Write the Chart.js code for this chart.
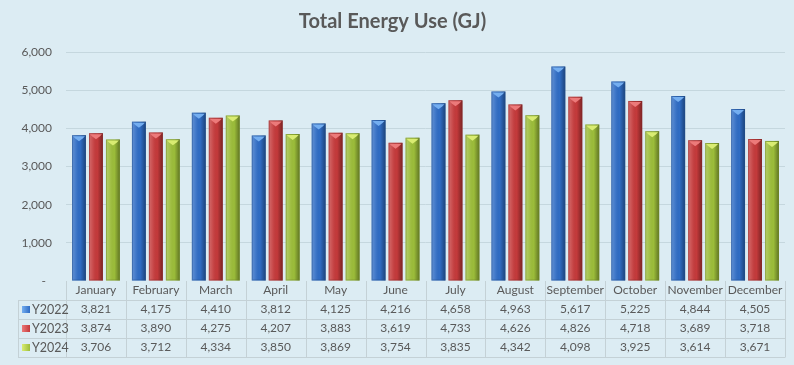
<!DOCTYPE html>
<html lang="en">
<head>
<meta charset="UTF-8">
<title>Total Energy Use (GJ)</title>
<style>
    html, body { margin: 0; padding: 0; background: #dcecf3; }
    .wrap { width: 794px; height: 365px; }
</style>
</head>
<body>
<div class="wrap"><canvas id="energy" width="794" height="365"></canvas></div>
<script src="https://cdn.jsdelivr.net/npm/chart.js"></script>
<script>
const months = ['January', 'February', 'March', 'April', 'May', 'June', 'July', 'August', 'September', 'October', 'November', 'December'];
const seriesNames = ['Y2022', 'Y2023', 'Y2024'];
const y2022 = [3821, 4175, 4410, 3812, 4125, 4216, 4658, 4963, 5617, 5225, 4844, 4505];
const y2023 = [3874, 3890, 4275, 4207, 3883, 3619, 4733, 4626, 4826, 4718, 3689, 3718];
const y2024 = [3706, 3712, 4334, 3850, 3869, 3754, 3835, 4342, 4098, 3925, 3614, 3671];
const seriesColors = ['#2f6cc4', '#c43a3b', '#9cbd3a'];
const capColors = ['#74aef0', '#ec7a7a', '#d9ec72'];
const edgeColors = ['#24528f', '#8e2a2a', '#6f8a28'];

const FONT = 'Lato, "Open Sans", sans-serif';
const TEXT = '#595959';
const ROW_H = 19;

const fmt = v => v.toLocaleString('en-US');
const tableLabels = months.map((m, i) => [m, fmt(y2022[i]), fmt(y2023[i]), fmt(y2024[i])]);

// draws the data table grid, its legend keys and the bar shading
const tablePlugin = {
    id: 'dataTable',
    afterDatasetsDraw(chart) {
        const ctx = chart.ctx;
        chart.data.datasets.forEach((ds, d) => {
            chart.getDatasetMeta(d).data.forEach(bar => {
                const l = bar.x - bar.width / 2, r = bar.x + bar.width / 2;
                const g = ctx.createLinearGradient(l, 0, r, 0);
                g.addColorStop(0, 'rgba(255,255,255,0.25)');
                g.addColorStop(0.3, 'rgba(255,255,255,0.08)');
                g.addColorStop(0.6, 'rgba(0,0,0,0)');
                g.addColorStop(1, 'rgba(0,0,0,0.38)');
                ctx.save();
                ctx.fillStyle = g;
                ctx.fillRect(l, bar.y, bar.width, bar.base - bar.y);
                ctx.strokeStyle = edgeColors[d];
                ctx.globalAlpha = 0.5;
                ctx.lineWidth = 1;
                ctx.strokeRect(l + 0.5, bar.y + 0.5, bar.width - 1, bar.base - bar.y - 1);
                ctx.globalAlpha = 1;
                // bevelled top
                ctx.fillStyle = capColors[d];
                ctx.beginPath();
                ctx.moveTo(l + 1, bar.y + 1);
                ctx.lineTo(r - 1, bar.y + 1);
                ctx.lineTo(r - 3, bar.y + 3);
                ctx.lineTo(bar.x, bar.y + 6);
                ctx.lineTo(l + 3, bar.y + 3);
                ctx.closePath();
                ctx.fill();
                ctx.restore();
            });
        });
    },
    afterDraw(chart) {
        const { ctx, chartArea, scales } = chart;
        const x = scales.x;
        const top = chartArea.bottom;
        const bottom = top + 4 * ROW_H;
        const left = 18;
        ctx.save();
        ctx.strokeStyle = '#c4d1d6';
        ctx.lineWidth = 1;
        ctx.beginPath();
        for (let i = 0; i <= months.length; i++) {
            const px = Math.round(x.getPixelForValue(i - 0.5)) + 0.5;
            ctx.moveTo(px, top);
            ctx.lineTo(px, bottom);
        }
        for (let r = 1; r <= 4; r++) {
            const py = top + r * ROW_H + 0.5;
            ctx.moveTo(left, py);
            ctx.lineTo(Math.round(chartArea.right) + 0.5, py);
        }
        ctx.moveTo(left + 0.5, top + ROW_H);
        ctx.lineTo(left + 0.5, bottom);
        ctx.stroke();

        ctx.font = '12.5px ' + FONT;
        ctx.textBaseline = 'middle';
        ctx.textAlign = 'left';
        seriesNames.forEach((name, i) => {
            const cy = top + (i + 1.5) * ROW_H;
            const g = ctx.createLinearGradient(22, 0, 30, 0);
            g.addColorStop(0, capColors[i]);
            g.addColorStop(1, seriesColors[i]);
            ctx.fillStyle = g;
            ctx.fillRect(22, cy - 3.5, 8, 7);
            ctx.fillStyle = TEXT;
            ctx.fillText(name, 32, cy);
        });
        ctx.restore();
    }
};

new Chart(document.getElementById('energy'), {
    type: 'bar',
    data: {
        labels: tableLabels,
        datasets: [
            { label: seriesNames[0], data: y2022, backgroundColor: seriesColors[0] },
            { label: seriesNames[1], data: y2023, backgroundColor: seriesColors[1] },
            { label: seriesNames[2], data: y2024, backgroundColor: seriesColors[2] }
        ]
    },
    options: {
        responsive: false,
        animation: false,
        layout: { padding: { left: 0, right: 9, bottom: 8, top: 0 } },
        datasets: { bar: { barPercentage: 0.82, categoryPercentage: 0.85 } },
        plugins: {
            legend: { display: false },
            tooltip: { enabled: false },
            title: {
                display: true,
                text: 'Total Energy Use (GJ)',
                color: TEXT,
                font: { family: FONT, size: 20, weight: 'bold' },
                padding: { top: 10, bottom: 18 }
            }
        },
        scales: {
            x: {
                grid: { display: false, drawTicks: false },
                border: { display: false },
                ticks: {
                    color: TEXT,
                    padding: 0,
                    autoSkip: false,
                    maxRotation: 0,
                    font: { family: FONT, size: 12, lineHeight: ROW_H + 'px' }
                }
            },
            y: {
                min: 0,
                max: 6000,
                afterFit: s => { s.width = 66; },
                grid: {
                    drawTicks: false,
                    color: ctx => ctx.tick && ctx.tick.value === 0 ? 'rgba(0,0,0,0)' : '#c5d7de'
                },
                border: { display: false },
                ticks: {
                    stepSize: 1000,
                    padding: 14,
                    color: TEXT,
                    font: { family: FONT, size: 12 },
                    callback: v => v === 0 ? '-  ' : fmt(v)
                }
            }
        }
    },
    plugins: [tablePlugin]
});
</script>
</body>
</html>
